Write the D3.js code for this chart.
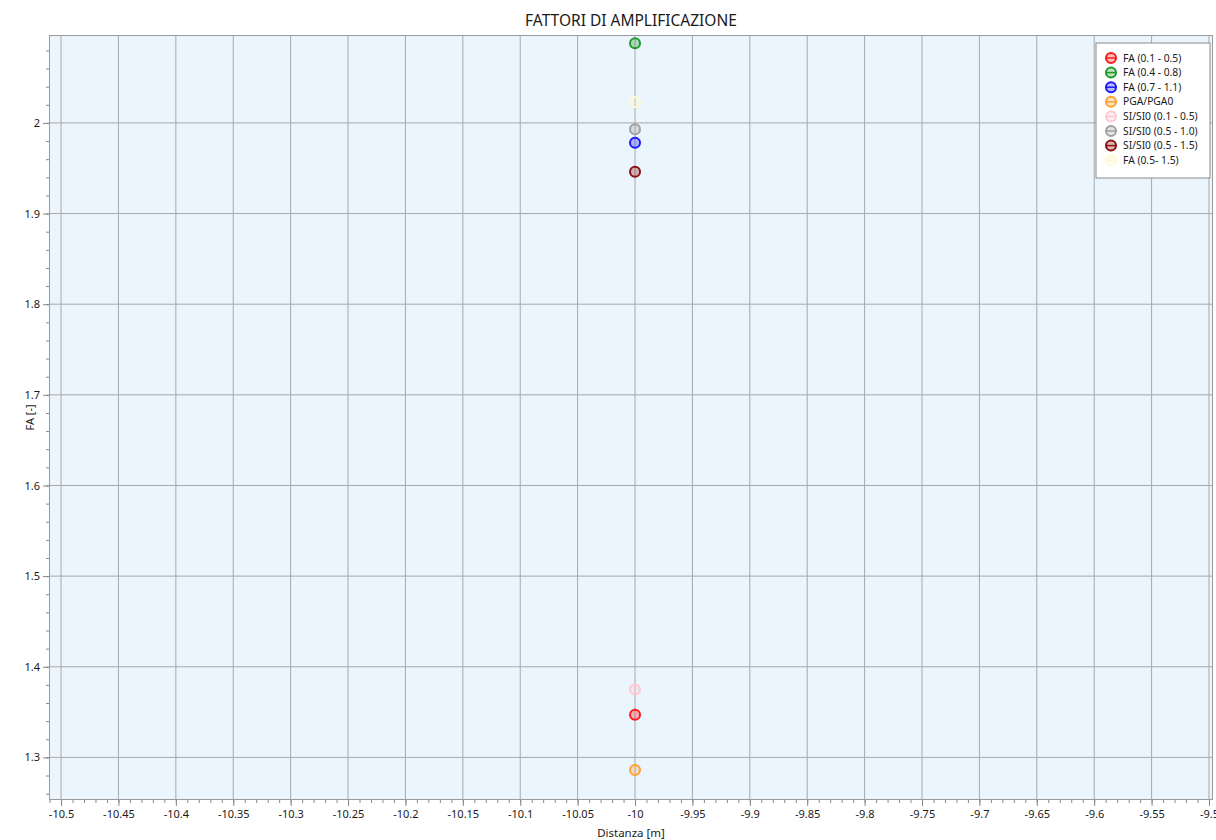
<!DOCTYPE html>
<html>
<head>
<meta charset="utf-8">
<script src="https://cdn.jsdelivr.net/npm/d3@7"></script>
<style>
  body { margin: 0; background: #fff; }
  svg { display: block; font-family: "Noto Sans", sans-serif; }
</style>
</head>
<body>
<div id="chart"></div>
<script>
const WIDTH = 1216;
const HEIGHT = 840;
const MARGIN = {top: 35, right: 3, bottom: 40, left: 49};

// data
const seriesNames = ["FA (0.1 - 0.5)", "FA (0.4 - 0.8)", "FA (0.7 - 1.1)", "PGA/PGA0",
  "SI/SI0 (0.1 - 0.5)", "SI/SI0 (0.5 - 1.0)", "SI/SI0 (0.5 - 1.5)", "FA (0.5- 1.5)"];
const seriesColors = ["#ff1a1a", "#1f9a2a", "#1a1aff", "#ffa030",
  "#ffc8d2", "#a0a0a0", "#8b1010", "#fff8d0"];
const distance = [-10, -10, -10, -10, -10, -10, -10, -10];
const faValues = [1.347, 2.088, 1.978, 1.286, 1.375, 1.993, 1.946, 2.023];

const xTicks = [-10.5, -10.45, -10.4, -10.35, -10.3, -10.25, -10.2, -10.15, -10.1, -10.05,
  -10, -9.95, -9.9, -9.85, -9.8, -9.75, -9.7, -9.65, -9.6, -9.55, -9.5];
const yTicks = [1.3, 1.4, 1.5, 1.6, 1.7, 1.8, 1.9, 2];
const xDomain = [-10.5105, -9.4965];
const yDomain = [1.253, 2.097];

const innerW = WIDTH - MARGIN.left - MARGIN.right;
const innerH = HEIGHT - MARGIN.top - MARGIN.bottom;

const svg = d3.select("#chart")
    .append("svg")
    .attr("width", WIDTH)
    .attr("height", HEIGHT);

const x = d3.scaleLinear().domain(xDomain).range([MARGIN.left, MARGIN.left + innerW]);
const y = d3.scaleLinear().domain(yDomain).range([MARGIN.top + innerH, MARGIN.top]);

// plot background
svg.append("rect")
    .attr("x", MARGIN.left)
    .attr("y", MARGIN.top)
    .attr("width", innerW)
    .attr("height", innerH)
    .attr("fill", "#ebf5fd");

// grid
svg.append("g")
    .selectAll("line")
    .data(xTicks)
    .enter()
    .append("line")
    .attr("x1", d => x(d)).attr("x2", d => x(d))
    .attr("y1", MARGIN.top).attr("y2", MARGIN.top + innerH)
    .attr("stroke", "#a8a8a8");

svg.append("g")
    .selectAll("line")
    .data(yTicks)
    .enter()
    .append("line")
    .attr("x1", MARGIN.left).attr("x2", MARGIN.left + innerW)
    .attr("y1", d => y(d)).attr("y2", d => y(d))
    .attr("stroke", "#a8a8a8");

// axes
const fmt = d => String(+d.toFixed(2));
const xMinor = d3.range(-1051, -949).map(v => v / 100).filter(v => v >= xDomain[0] && v <= xDomain[1]);
const yMinor = d3.range(126, 210, 2).map(v => v / 100).filter(v => v >= yDomain[0] && v <= yDomain[1]);

const xAxisG = svg.append("g")
    .attr("transform", `translate(0,${MARGIN.top + innerH})`);
xAxisG.call(d3.axisBottom(x).tickValues(xMinor).tickSize(3).tickFormat(""));
xAxisG.select(".domain").remove();
xAxisG.selectAll(".tick line").attr("stroke", "#888");
const xMajor = svg.append("g")
    .attr("transform", `translate(0,${MARGIN.top + innerH})`)
    .call(d3.axisBottom(x).tickValues(xTicks).tickSize(6).tickPadding(4).tickFormat(fmt));
xMajor.select(".domain").remove();
xMajor.selectAll(".tick line").attr("stroke", "#888");
xMajor.selectAll("text").attr("font-size", 11).attr("fill", "#1a1a1a").attr("font-family", "Noto Sans");

const yAxisG = svg.append("g")
    .attr("transform", `translate(${MARGIN.left},0)`);
yAxisG.call(d3.axisLeft(y).tickValues(yMinor).tickSize(3).tickFormat(""));
yAxisG.select(".domain").remove();
yAxisG.selectAll(".tick line").attr("stroke", "#888");
const yMajor = svg.append("g")
    .attr("transform", `translate(${MARGIN.left},0)`)
    .call(d3.axisLeft(y).tickValues(yTicks).tickSize(6).tickPadding(3).tickFormat(fmt));
yMajor.select(".domain").remove();
yMajor.selectAll(".tick line").attr("stroke", "#888");
yMajor.selectAll("text").attr("font-size", 11).attr("fill", "#1a1a1a").attr("font-family", "Noto Sans");

// frame
svg.append("rect")
    .attr("x", MARGIN.left + 0.5)
    .attr("y", MARGIN.top + 0.5)
    .attr("width", innerW - 1)
    .attr("height", innerH - 1)
    .attr("fill", "none")
    .attr("stroke", "#9a9a9a");

// points
const points = seriesNames.map((n, i) => ({name: n, color: seriesColors[i], x: distance[i], y: faValues[i]}));
svg.append("g")
    .selectAll("circle")
    .data(points)
    .enter()
    .append("circle")
    .attr("cx", d => x(d.x))
    .attr("cy", d => y(d.y))
    .attr("r", 5)
    .attr("fill", d => d.color)
    .attr("fill-opacity", 0.3)
    .attr("stroke", d => d.color)
    .attr("stroke-width", 2);

// titles
svg.append("text")
    .attr("x", MARGIN.left + innerW / 2)
    .attr("y", 26)
    .attr("text-anchor", "middle")
    .attr("font-size", 15.5)
    .attr("fill", "#1a1a1a")
    .text("FATTORI DI AMPLIFICAZIONE");

svg.append("text")
    .attr("x", MARGIN.left + innerW / 2)
    .attr("y", 837)
    .attr("text-anchor", "middle")
    .attr("font-size", 11.5)
    .attr("fill", "#1a1a1a")
    .text("Distanza [m]");

svg.append("text")
    .attr("transform", `translate(34,${MARGIN.top + innerH / 2}) rotate(-90)`)
    .attr("text-anchor", "middle")
    .attr("font-size", 11)
    .attr("fill", "#1a1a1a")
    .text("FA [-]");

// legend
const legend = svg.append("g").attr("transform", "translate(1096,43)");
legend.append("rect")
    .attr("width", 114)
    .attr("height", 135)
    .attr("fill", "#fff")
    .attr("stroke", "#8a8a8a");
const item = legend.selectAll("g")
    .data(points)
    .enter()
    .append("g")
    .attr("transform", (d, i) => `translate(15,${15 + i * 14.6})`);
item.append("line")
    .attr("x1", -6).attr("x2", 6)
    .attr("stroke", d => d.color)
    .attr("stroke-width", 1.5);
item.append("circle")
    .attr("r", 5)
    .attr("fill", d => d.color)
    .attr("fill-opacity", 0.3)
    .attr("stroke", d => d.color)
    .attr("stroke-width", 2);
item.append("text")
    .attr("x", 12)
    .attr("dy", "0.35em")
    .attr("font-size", 10.3)
    .attr("fill", "#1a1a1a")
    .text(d => d.name);
</script>
</body>
</html>
